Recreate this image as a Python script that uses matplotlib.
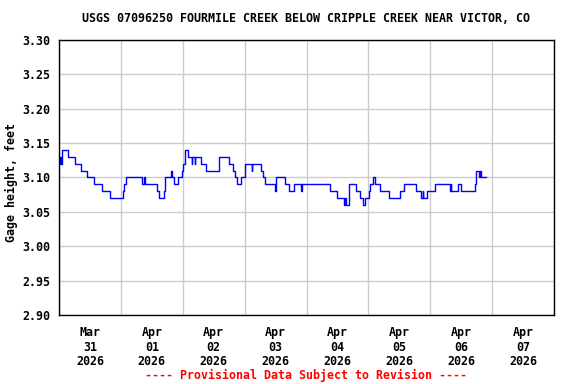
import matplotlib
matplotlib.use("Agg")
import matplotlib.pyplot as plt
import numpy as np

# gage height change points: hours since 2026-03-31 00:00, value in feet
hours = [0, 0.3, 0.6, 1.0, 3.4, 6.1, 8.4, 10.9, 13.6, 16.5, 19.8, 24.9, 25.3, 26.0,
         32.3, 32.9, 33.4, 37.9, 38.9, 40.6, 41.0, 41.2, 43.5, 43.8, 44.7, 46.0,
         47.6, 48.2, 48.7, 50.1, 51.5, 51.7, 52.6, 52.8, 55.2, 57.2, 62.0, 66.0,
         67.6, 68.4, 69.2, 70.7, 72.2, 74.7, 75.0, 78.2, 79.0, 79.8, 83.7, 84.0,
         84.1, 87.6, 89.2, 91.2, 93.8, 94.1, 105.1, 107.9, 110.5, 110.8, 111.3,
         112.6, 115.1, 116.8, 118.0, 118.8, 120.3, 120.8, 121.9, 122.4, 124.4,
         128.1, 132.2, 133.9, 138.3, 140.6, 141.0, 141.3, 142.8, 146.0, 151.6,
         151.9, 152.2, 154.6, 156.0, 161.3, 161.9, 163.0, 163.3, 163.6, 165.8]
gage = [3.12, 3.13, 3.12, 3.14, 3.13, 3.12, 3.11, 3.10, 3.09, 3.08, 3.07, 3.08, 3.09, 3.10,
        3.09, 3.10, 3.09, 3.08, 3.07, 3.08, 3.09, 3.10, 3.11, 3.10, 3.09, 3.10,
        3.11, 3.12, 3.14, 3.13, 3.12, 3.13, 3.12, 3.13, 3.12, 3.11, 3.13, 3.12,
        3.11, 3.10, 3.09, 3.10, 3.12, 3.11, 3.12, 3.11, 3.10, 3.09, 3.08, 3.09,
        3.10, 3.09, 3.08, 3.09, 3.08, 3.09, 3.08, 3.07, 3.06, 3.07, 3.06,
        3.09, 3.08, 3.07, 3.06, 3.07, 3.08, 3.09, 3.10, 3.09, 3.08,
        3.07, 3.08, 3.09, 3.08, 3.07, 3.08, 3.07, 3.08, 3.09, 3.08,
        3.09, 3.08, 3.09, 3.08, 3.09, 3.11, 3.10, 3.11, 3.10, 3.10]

day_labels = ["Mar\n31\n2026", "Apr\n01\n2026", "Apr\n02\n2026", "Apr\n03\n2026",
              "Apr\n04\n2026", "Apr\n05\n2026", "Apr\n06\n2026", "Apr\n07\n2026"]
y_ticks = [2.90, 2.95, 3.00, 3.05, 3.10, 3.15, 3.20, 3.25, 3.30]

title = "USGS 07096250 FOURMILE CREEK BELOW CRIPPLE CREEK NEAR VICTOR, CO"

plt.rcParams['font.family'] = 'DejaVu Sans Mono'
plt.rcParams['font.weight'] = 'bold'
fs = 8.4

fig = plt.figure(figsize=(5.76, 3.84), dpi=100)
ax = fig.add_axes([59/576, 1-315/384, 495/576, 275/384])

ax.plot(hours, gage, drawstyle='steps-post', color='#0000ff', lw=1)

ax.set_xlim(0, 192)
ax.set_ylim(2.90, 3.30)
ax.set_yticks(y_ticks)
ax.set_yticklabels([f"{v:.2f}" for v in y_ticks], fontsize=fs, fontweight='bold')

ax.set_xticks(np.arange(0, 193, 24))
ax.set_xticklabels([])
ax.set_xticks(np.arange(12, 192, 24), minor=True)
ax.set_xticklabels(day_labels, minor=True, fontsize=fs, fontweight='bold', linespacing=1.15)

ax.tick_params(axis='both', which='both', length=0)
ax.tick_params(axis='x', which='minor', pad=8)
ax.tick_params(axis='y', pad=6)
ax.grid(True, which='major', color='#cccccc', lw=1)
ax.set_axisbelow(True)
for s in ax.spines.values():
    s.set_color('black')
    s.set_linewidth(1)

fig.text(306/576, 1-19/384, title, ha='center', va='center', fontsize=fs, fontweight='bold')
fig.text(11/576, 1-183/384, "Gage height, feet", rotation=90, ha='center', va='center',
         fontsize=fs, fontweight='bold')
fig.text(306/576, 1-375/384, "---- Provisional Data Subject to Revision ----", color='red',
         ha='center', va='center', fontsize=fs, fontweight='bold')

fig.savefig("out.png", dpi=100)
